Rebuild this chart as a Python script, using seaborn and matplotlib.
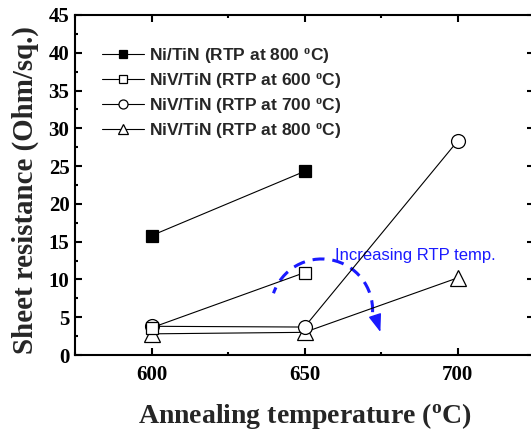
import matplotlib
matplotlib.use('Agg')
import matplotlib.pyplot as plt
import seaborn as sns
import pandas as pd
from matplotlib.patches import Arc
from matplotlib.ticker import MultipleLocator
from matplotlib.font_manager import FontProperties

# ---- data ----
temps_ni800 = [600, 650]
ni_800 = [15.8, 24.3]
temps_niv600 = [600, 650]
niv_600 = [3.6, 10.9]
temps_niv700 = [600, 650, 700]
niv_700 = [3.8, 3.7, 28.3]
temps_niv800 = [600, 650, 700]
niv_800 = [2.8, 3.0, 10.2]
series_labels = [r'Ni/TiN (RTP at 800 $^{\rm o}$C)',
                 r'NiV/TiN (RTP at 600 $^{\rm o}$C)',
                 r'NiV/TiN (RTP at 700 $^{\rm o}$C)',
                 r'NiV/TiN (RTP at 800 $^{\rm o}$C)']
x_ticks = [600, 650, 700]
annot_text = 'Increasing RTP temp.'

sns.set_theme(style='ticks')
plt.rcParams['font.family'] = ['Liberation Serif', 'DejaVu Serif']
plt.rcParams['font.weight'] = 'bold'
plt.rcParams['mathtext.fontset'] = 'custom'
plt.rcParams['mathtext.rm'] = 'Liberation Serif:bold'
plt.rcParams['mathtext.it'] = 'Liberation Serif:bold'
plt.rcParams['mathtext.bf'] = 'Liberation Serif:bold'
plt.rcParams['xtick.direction'] = 'in'
plt.rcParams['ytick.direction'] = 'in'

fig = plt.figure(figsize=(5.31, 4.36), dpi=100)
fig.patch.set_facecolor('white')
ax = fig.add_axes([75/531, 81/436, 459/531, 340/436])
ax.set_facecolor('white')

specs = [
    (temps_ni800, ni_800, 's', 8.9, 'black', 6),
    (temps_niv600, niv_600, 's', 8.9, 'white', 5),
    (temps_niv700, niv_700, 'o', 10, 'white', 4),
    (temps_niv800, niv_800, '^', 11.5, 'white', 3),
]
for (xs, ys, mk, ms, fc, z), lab in zip(specs, series_labels):
    df = pd.DataFrame({'T': xs, 'R': ys})
    sns.lineplot(data=df, x='T', y='R', ax=ax, color='black', linewidth=0.8,
                 marker=mk, markersize=ms, markerfacecolor=fc,
                 markeredgecolor='black', markeredgewidth=0.9,
                 label=lab, zorder=z)

ax.set_xlim(575, 725)
ax.set_ylim(0, 45)
ax.set_xticks(x_ticks)
ax.xaxis.set_minor_locator(MultipleLocator(25))
ax.yaxis.set_major_locator(MultipleLocator(5))
ax.yaxis.set_minor_locator(MultipleLocator(2.5))
ax.tick_params(which='both', direction='in', top=True, right=True,
               width=1.5, colors='black')
ax.tick_params(which='major', length=5)
ax.tick_params(which='minor', length=2.5)
ax.tick_params(axis='x', which='major', labelsize=15, pad=7)
ax.tick_params(axis='y', which='major', labelsize=15, pad=4)
for s in ax.spines.values():
    s.set_linewidth(1.5)
    s.set_color('black')
    s.set_visible(True)

ax.set_xlabel(r'Annealing temperature ($^{\rm o}$C)', fontsize=20, fontweight='bold')
ax.set_ylabel('Sheet resistance (Ohm/sq.)', fontsize=20.8, fontweight='bold')
ax.xaxis.set_label_coords(0.501, -0.179)
ax.xaxis.label.set_verticalalignment('center')
ax.yaxis.set_label_coords(-0.109, 0.485)
ax.yaxis.label.set_verticalalignment('center')

handles, labels = ax.get_legend_handles_labels()
ax.legend(handles, labels, loc='upper left', bbox_to_anchor=(0.059, 0.909),
          frameon=False, prop=FontProperties(family='Liberation Sans', weight='bold', size=12.5),
          markerscale=0.65, handlelength=2.4, handletextpad=0.3,
          labelspacing=0.35, borderaxespad=0, borderpad=0)

blue = (0.1, 0.1, 1.0)
arc = Arc((655.6, 5.96), 33.3, 13.5, theta1=-1, theta2=172, color=blue,
          lw=2.2, linestyle=(0, (3.9, 2.6)), zorder=2)
ax.add_patch(arc)
ax.annotate('', xy=(674.8, 3.04), xytext=(673.2, 5.03),
            arrowprops=dict(arrowstyle='-|>,head_length=1.1,head_width=0.4',
                            facecolor=blue, edgecolor=blue, lw=1.0,
                            shrinkA=0, shrinkB=0, mutation_scale=10), zorder=2)
ax.text(660.1, 13.2, annot_text, color=blue, fontsize=12,
        family='Liberation Sans', fontweight='normal', va='center', ha='left')

fig.savefig('out.png', dpi=100)
